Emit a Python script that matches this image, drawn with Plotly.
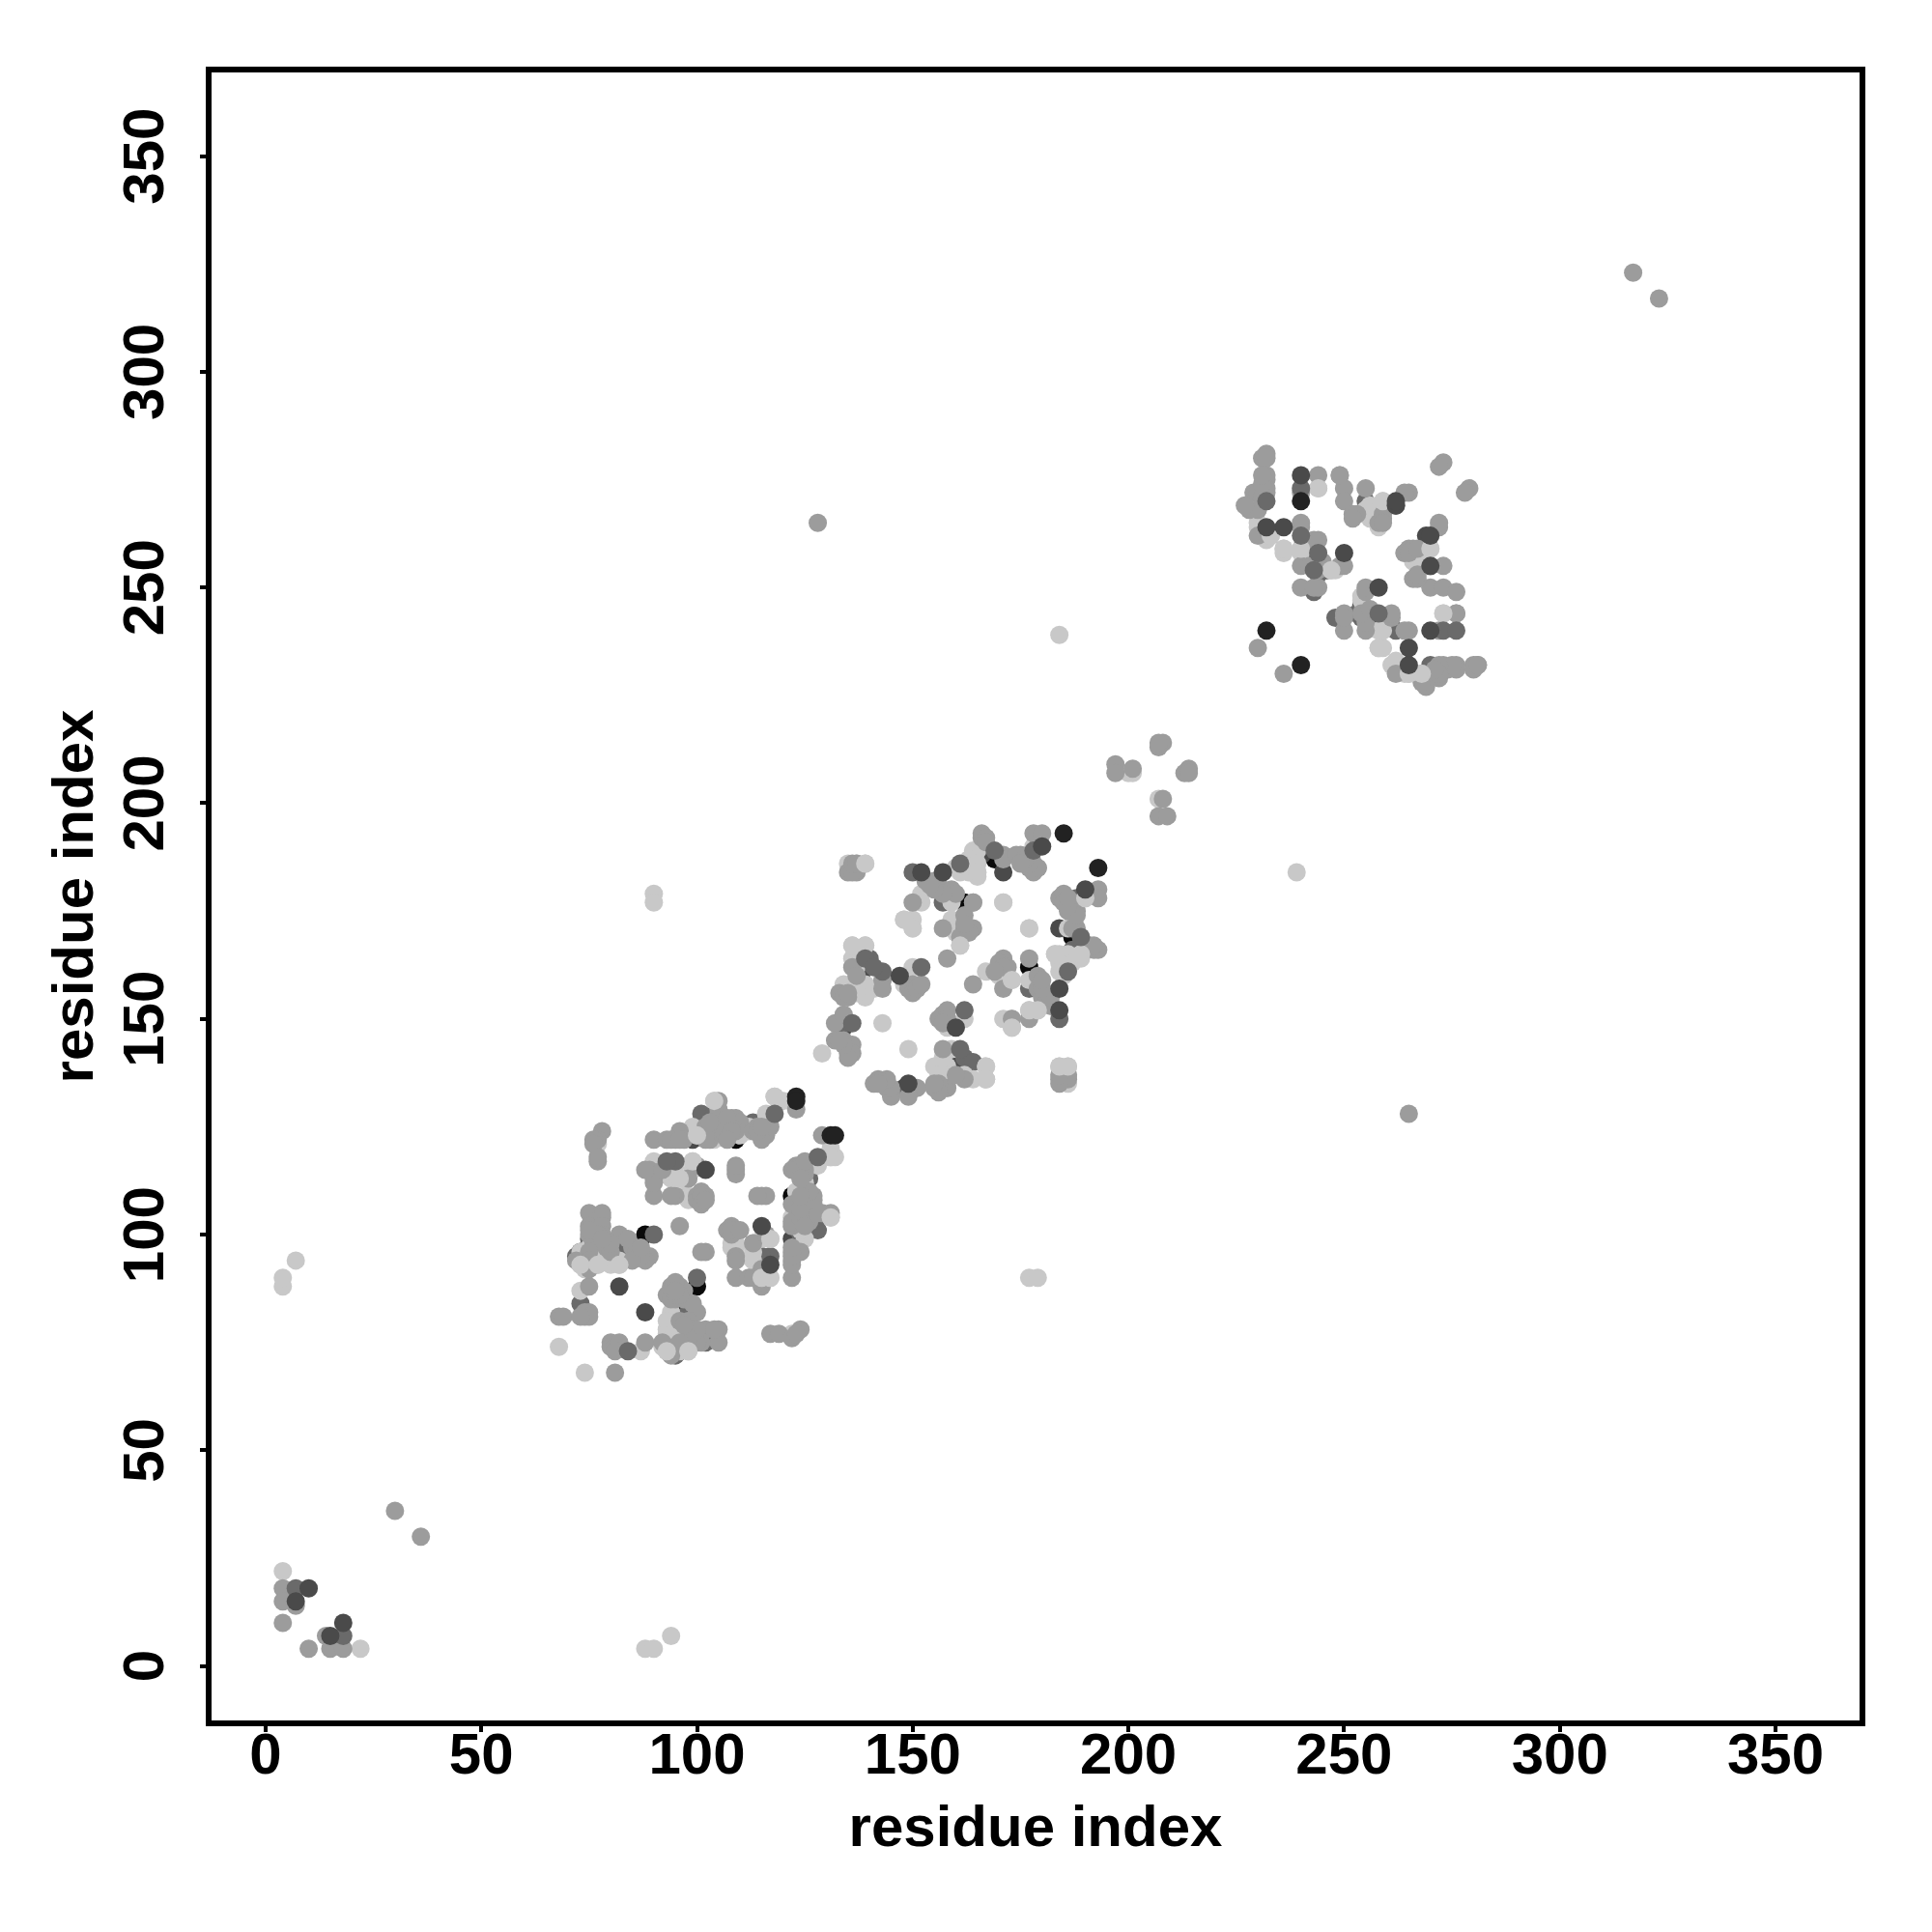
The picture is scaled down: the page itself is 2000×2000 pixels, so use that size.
import plotly.graph_objects as go

tick_values = [0, 50, 100, 150, 200, 250, 300, 350]
axis_label = "residue index"

black_pts = [(88,100),(100,88),(162,177),(177,162),(187,169),(169,187),(243,258),(258,243),(259,268),(268,259),(96,83),(83,96),(122,109),(109,122)]

dark_under_pts = [(99,122),(122,99),(96,73),(73,96),(171,184),(184,171),(166,188),(188,166),(138,160),(160,139),(134,148),(148,134),(246,254),(254,246),(94,115),(115,94),(269,262),(262,269)]

dim_under_pts = [(73,84),(82,97),(98,82),(75,99),(102,75),(77,97),(97,77),(72,95),(95,72),(117,95),(115,95),(101,128),(128,101),(113,126),(126,113),(128,104),(104,128),(124,100),(100,124),(188,178),(157,177),(177,157),(162,141),(164,140),(140,164),(149,134),(134,149),(270,232),(262,240),(254,243),(243,249),(248,243),(255,270),(270,255),(253,244),(244,253),(187,166)]

light_pts = [(68,74),(74,68),(73,87),(87,73),(73,96),(73,93),(77,93),(75,95),(78,96),(82,93),(80,93),(76,94),(74,92),(93,77),(93,73),(98,73),(95,77),(95,74),(97,75),(94,75),(96,76),(94,82),(122,77),
(117,99),(115,99),(109,98),(108,97),(113,94),(117,90),(115,90),(116,91),(114,92),(100,123),(99,125),(101,124),(102,123),(104,131),(118,132),(116,128),(112,124),(131,118),(131,120),(126,116),(125,112),(124,113),(131,104),(122,104),(124,105),(123,110),(123,103),(124,102),
(90,115),(90,117),(91,116),(96,113),(99,117),(98,113),(97,109),(98,108),(77,121),(95,116),
(164,189),(160,185),(165,184),(162,186),(163,184),(152,177),(159,177),(171,177),(148,173),(150,173),(150,171),(159,171),(159,173),(161,167),(160,170),(177,171),(186,171),(190,178),(183,165),(185,164),(189,165),(184,161),(187,163),(186,165),(167,161),(173,159),(170,160),(177,152),(179,152),(171,150),(173,148),(162,150),(158,148),(143,149),(149,143),(129,142),(136,167),(139,167),(136,164),(137,162),(134,158),(136,158),(139,158),(141,157),(159,143),(167,139),(167,136),(164,136),(155,139),(158,136),(156,137),(135,186),(137,186),(139,186),(184,139),(186,139),
(244,273),(229,268),(230,264),(233,262),(256,269),(259,270),(255,267),(258,264),(236,259),(240,259),(247,254),(270,259),(266,256),(268,255),(273,244),(258,236),(258,240),(261,232),(265,230),(268,230),(254,248),(184,239),(239,184),(90,179),(90,177),(177,90),(179,90),(4,88),(4,90),(7,94),(88,4),(90,4),(94,7),(22,4),(4,22),(207,201),(200,207),(201,207),
(96,73),(93,78),(93,80),(94,76),(95,78),(96,78),(92,74),(77,95),(74,95),(75,97),(75,94),(76,96),(82,94),
(99,115),(98,109),(94,113),(92,114),(125,99),(124,101),(123,102),(132,118),(128,116),(120,131),(116,126),(112,125),(113,124),(104,122),(105,124),(110,123),(103,123),(102,124),(113,96),(113,98),(109,97),(108,98),
(189,164),(185,160),(184,165),(186,162),(184,163),(177,159),(173,150),(171,159),(178,190),(165,183),(164,185),(165,189),(161,184),(163,187),(165,186),(152,179),(150,162),(148,158),(162,137),(158,134),(158,139),(157,141),(143,159),(139,155),(137,156),(186,135),(186,137),
(268,229),(264,230),(262,233),(269,256),(267,255),(264,258),(259,236),(259,240),(254,247),(256,266),(255,268),(236,258),(240,258),(232,261),(230,265),(230,268),(248,254)]

mid_pts = [(81,68),(68,81),(69,81),(75,88),(74,81),(75,82),(74,82),(75,81),(73,81),(80,75),(80,74),(81,74),(82,75),(81,73),(88,75),
(75,105),(78,105),(78,104),(75,102),(78,102),(75,100),(78,100),(76,98),(79,97),(75,96),(72,94),(82,100),(85,97),(86,95),(86,96),(89,95),(88,94),(87,95),(84,99),
(105,78),(105,75),(102,78),(100,77),(99,75),(101,75),(94,72),(93,74),(92,75),(117,77),(119,77),(122,76),(124,78),(123,77),
(94,88),(96,88),(94,87),(93,86),(95,85),(97,85),(97,87),(100,82),(96,80),(94,85),(98,80),(99,78),
(96,102),(102,96),(109,101),(107,101),(108,102),(109,95),(109,94),(113,98),(109,90),(112,90),(115,88),(115,92),(122,90),(122,94),(124,96),(122,96),(116,100),
(122,102),(125,106),(127,109),(129,105),(126,103),(125,108),(127,107),(124,108),(122,107),(123,116),(122,115),(124,114),(125,115),(129,123),(123,129),
(90,122),(93,122),(95,122),(96,124),(97,122),(103,122),(104,124),(105,131),(105,128),(102,125),(106,124),(108,127),(109,127),(110,126),(109,124),(114,125),(116,123),(115,123),(117,125),(113,124),
(78,124),(77,122),(76,122),(76,121),(77,117),(77,118),
(89,115),(90,113),(90,109),(95,109),(100,109),(102,109),(101,108),(100,108),(101,110),(109,115),(109,114),(115,109),(116,109),
(178,193),(180,193),(166,192),(166,193),(167,192),(171,188),(171,187),(175,188),(174,188),(177,185),(179,185),(177,187),(176,186),(178,186),(153,182),(155,182),(157,180),(159,180),(150,177),(164,177),(157,171),(162,174),(162,171),(164,171),(161,169),(163,170),(158,164),(164,158),(188,171),(184,178),(185,179),(186,177),(187,176),(193,180),(193,178),(192,166),(191,167),(186,175),(177,164),(171,164),(170,163),(172,162),(171,157),(179,160),(179,157),(180,155),(181,154),(177,150),(173,150),(157,151),(156,150),(158,152),(132,149),(134,151),(132,145),(134,145),(135,143),(135,142),(136,144),(136,142),(143,159),(143,157),(133,156),(135,155),(150,158),(151,157),(149,157),(150,156),(157,143),(162,136),(155,134),(158,134),(156,135),(160,137),(141,135),(143,135),(144,134),(145,133),(145,132),(151,134),(149,132),(184,136),(186,136),(184,135),(186,137),(135,184),(137,184),
(232,281),(231,280),(232,280),(232,275),(232,276),(232,272),(229,272),(230,272),(231,271),(228,268),(230,268),(230,262),(244,276),(249,276),(250,273),(250,270),(252,267),(253,267),(255,273),(259,266),(258,265),(259,267),(265,272),(273,279),(272,278),(279,273),(278,272),(272,264),(265,259),(264,258),(266,252),(270,250),(273,250),(276,249),(276,244),(272,240),(265,240),(262,230),(269,227),(268,228),(271,230),(272,229),(273,232),(274,231),(276,232),(276,231),(280,232),(281,232),(280,231),(273,255),(230,236),(236,230),(240,264),(244,261),(240,255),(250,255),(240,250),(244,250),(243,250),(255,249),(250,244),(250,240),(255,240),(255,242),(261,243),(254,244),(256,245),(317,323),(323,317),(128,265),(265,128),(30,36),(36,30),
(4,18),(4,15),(4,10),(7,14),(10,4),(14,7),(15,4),(18,4),
(207,213),(208,214),(207,214),(197,209),(197,207),(201,208),(214,208),(213,207),(214,207),(208,201),(207,197),(209,197),
(100,75),(104,78),(100,78),(98,76),(97,79),(96,75),(99,84),(95,86),(96,86),(95,89),(95,87),(77,100),(75,101),(75,94),(74,93),(75,92),(80,96),(85,94),(87,97),(80,98),(78,99),
(122,93),(122,95),(122,97),(122,103),(124,104),(131,105),(128,105),(125,102),(124,106),(127,108),(126,110),(124,109),(125,114),(123,115),(125,117),(124,113),(115,89),(113,90),(108,100),(108,101),(110,101),(114,109),(109,116),
(101,96),(101,109),(101,107),(102,108),(94,109),(98,113),(90,112),(88,115),(92,115),(94,122),(96,122),(100,116),(102,122),(106,125),(105,129),(103,126),(108,125),(107,127),(108,124),(107,122),(115,122),(114,124),(115,125),
(193,166),(192,167),(187,171),(188,175),(188,174),(185,177),(187,177),(186,176),(186,178),(182,153),(182,155),(180,157),(180,159),(171,162),(169,161),(178,184),(179,185),(177,186),(176,187),(167,191),(175,186),(164,177),(162,172),(160,179),(157,179),(155,180),(154,181),(151,157),(152,158),(145,134),(144,136),(142,136),(142,135),(156,133),(155,135),(158,150),(157,149),(136,162),(134,155),(135,156),(137,160),(135,141),(134,144),(133,145),(136,184),(136,186),(137,186),(184,137),
(281,232),(275,232),(272,232),(272,230),(271,231),(268,230),(276,244),(267,252),(267,253),(266,259),(265,258),(267,259),(272,265),(264,272),(259,265),(252,266),(249,276),(240,272),(240,265),(227,269),(232,273),(231,274),(231,276),(264,240),(261,244),(255,250),(250,243),(249,255),(242,255),(243,261),(244,254),(245,256)]

light_top_pts = [(118,132),(104,131),(131,104),(131,118),(167,139),(167,136),(184,139),(186,139),(139,186),(136,167),(139,167),(265,230),(268,230),(258,236),(244,273),(236,259),(240,259),(233,262),(259,270),(270,259),(273,244),(247,254),(100,123),(96,113),(99,117),(77,93),(82,93),(73,93),(98,73),(93,73),(115,90),(117,90),(117,99),(150,171),(148,173),(165,184),(160,185),(190,178),(189,165),(183,165),(173,159),(177,152),(179,152),(173,148),(177,171),(171,177),(161,167)]

dim_top_pts = [(84,73),(90,100),(100,90),(128,118),(118,128),(189,169),(169,189),(152,162),(162,152),(273,240),(276,240),(240,273),(244,258),(258,244),(18,7),(7,18),(136,149),(150,184),(184,150),(139,164),(143,161),(161,143),(178,189),(186,161),(161,186),(95,117),(93,117),(232,270),(240,262),(243,254),(141,162)]

dark_top_pts = [(82,88),(88,82),(102,115),(115,102),(180,190),(190,180),(152,184),(157,184),(184,152),(184,157),(160,148),(147,160),(265,236),(265,232),(236,264),(232,264),(240,276),(262,269),(262,270),(270,262),(270,255),(270,240),(250,258),(258,250),(10,18),(18,10),(7,15),(15,7),(117,93),(149,135)]

ink_pts = [(185,193),(193,185),(232,240),(240,232),(123,132),(123,131),(131,123),(132,123),(240,270)]

layers = [
    (black_pts, "#0a0a0a"),
    (dark_under_pts, "#4a4a4a"),
    (dim_under_pts, "#6a6a6a"),
    (light_pts, "#c8c8c8"),
    (mid_pts, "#9c9c9c"),
    (light_top_pts, "#c8c8c8"),
    (dim_top_pts, "#6a6a6a"),
    (dark_top_pts, "#4a4a4a"),
    (ink_pts, "#222222"),
]

fig = go.Figure()
for pts, colour in layers:
    fig.add_trace(go.Scatter(
        x=[p[0] for p in pts], y=[p[1] for p in pts], mode="markers",
        marker=dict(size=19, color=colour, line=dict(width=0)),
        showlegend=False,
    ))

font = dict(family="Liberation Sans", size=60, color="black", weight="bold")
axis = dict(
    tickmode="array", tickvals=tick_values, ticktext=[str(v) for v in tick_values],
    ticks="outside", ticklen=6, tickwidth=4, tickcolor="black",
    showgrid=False, zeroline=False, showline=True, linewidth=6, linecolor="black",
    mirror=True, tickfont=font, title=dict(text=axis_label, font=font),
)
fig.update_layout(
    width=2000, height=2000, autosize=False,
    margin=dict(l=211, r=83, t=67, b=227),
    paper_bgcolor="white", plot_bgcolor="white",
    xaxis=dict(axis, range=[-12.52, 369.48]),
    yaxis=dict(axis, range=[-12.61, 369.39], tickangle=-90),
)
fig.update_xaxes(title_standoff=23, ticklabelstandoff=-29)
fig.update_yaxes(title_standoff=1, ticklabelstandoff=14, ticklabelshift=9)
fig.write_html("out.html")
